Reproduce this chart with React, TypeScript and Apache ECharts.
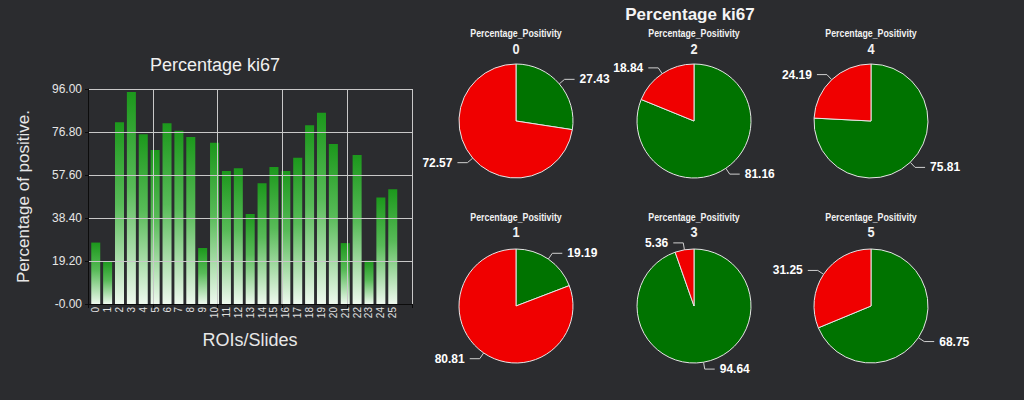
import React, { useEffect, useRef } from "react";
import * as echarts from "echarts";

const roiLabels = ["0", "1", "2", "3", "4", "5", "6", "7", "8", "9", "10", "11", "12", "13", "14", "15", "16", "17", "18", "19", "20", "21", "22", "23", "24", "25"];
const positivity = [27.43, 19.19, 81.16, 94.64, 75.81, 68.75, 80.7, 77.4, 74.6, 25.0, 72.0, 59.4, 60.6, 40.2, 53.9, 61.2, 59.4, 65.3, 79.8, 85.4, 71.4, 27.2, 66.5, 19.35, 47.5, 51.2];
const yTickLabels = ["-0.00", "19.20", "38.40", "57.60", "76.80", "96.00"];

const pieSlides = ["0", "1", "2", "3", "4", "5"];
const piePositive = [27.43, 19.19, 81.16, 94.64, 75.81, 68.75];
const pieNegative = [72.57, 80.81, 18.84, 5.36, 24.19, 31.25];

const BG = "#2b2c2f";
const SANS = "'Liberation Sans', Arial, sans-serif";

export default function App() {
  const ref = useRef<HTMLDivElement>(null);
  useEffect(() => {
    document.body.style.margin = "0";
    const chart = echarts.init(ref.current!, null, { renderer: "svg" });

    const pieCols = [516, 694, 871];
    const pieRows = [121, 306];
    const subY = [33, 217];
    const numY = [49, 232];

    const pieSeries: any[] = pieSlides.map((s, i) => {
      const col = Math.floor(i / 2);
      const row = i % 2;
      return {
        type: "pie",
        center: [pieCols[col], pieRows[row]],
        radius: 57,
        startAngle: 90,
        clockwise: true,
        avoidLabelOverlap: false,
        itemStyle: { borderColor: "#e6e6e6", borderWidth: 1 },
        label: {
          show: true,
          formatter: "{c}",
          color: "#ffffff",
          fontFamily: SANS,
          fontWeight: "bold",
          fontSize: 12,
        },
        labelLine: { show: true, length: 7, length2: 10, lineStyle: { color: "#d0d0d0", width: 1 } },
        emphasis: { disabled: true },
        data: [
          { name: "Positive " + s, value: piePositive[i], itemStyle: { color: "#007300" } },
          { name: "Negative " + s, value: pieNegative[i], itemStyle: { color: "#f00000" } },
        ],
      };
    });

    const pieTexts: any[] = [];
    pieSlides.forEach((s, i) => {
      const col = Math.floor(i / 2);
      const row = i % 2;
      pieTexts.push({
        type: "text",
        x: pieCols[col],
        y: subY[row],
        scaleX: 0.8,
        style: { text: "Percentage_Positivity", fill: "#f2f2f2", font: `bold 11px ${SANS}`, align: "center", verticalAlign: "middle" },
      });
      pieTexts.push({
        type: "text",
        x: pieCols[col],
        y: numY[row],
        scaleX: 0.85,
        style: { text: s, fill: "#f2f2f2", font: `bold 15px ${SANS}`, align: "center", verticalAlign: "middle" },
      });
    });

    chart.setOption({
      animation: false,
      backgroundColor: BG,
      textStyle: { fontFamily: SANS },
      grid: [
        { left: 88, top: 89, width: 324, height: 215 },
        { left: 89.8, top: 89, width: 308.9, height: 215 },
      ],
      xAxis: [
        {
          type: "value",
          gridIndex: 0,
          min: 0,
          max: 5,
          interval: 1,
          z: 4,
          name: "ROIs/Slides",
          nameLocation: "middle",
          nameGap: 27,
          nameTextStyle: { color: "#e8e8e8", fontSize: 18, fontFamily: SANS },
          axisLine: { show: true, lineStyle: { color: "#0c0c0c", width: 1 } },
          axisTick: { show: true, length: 4, lineStyle: { color: "#0c0c0c" } },
          axisLabel: { show: false },
          splitLine: { show: true, showMinLine: false, lineStyle: { color: "#c8c8c8", width: 1 } },
        },
        {
          type: "category",
          gridIndex: 1,
          data: roiLabels,
          boundaryGap: true,
          axisLine: { show: false },
          axisTick: { show: false },
          axisLabel: { rotate: 90, fontSize: 10, color: "#e0e0e0", margin: 3, interval: 0, fontFamily: SANS },
          splitLine: { show: false },
        },
      ],
      yAxis: [
        {
          type: "value",
          gridIndex: 0,
          min: 0,
          max: 96,
          interval: 19.2,
          z: 3,
          name: "Percentage of positive.",
          nameLocation: "middle",
          nameGap: 56,
          nameTextStyle: { color: "#e8e8e8", fontSize: 17, fontFamily: SANS },
          axisLine: { show: true, lineStyle: { color: "#0c0c0c", width: 1 } },
          axisTick: { show: true, length: 3, lineStyle: { color: "#0c0c0c" } },
          axisLabel: {
            color: "#e6e6e6",
            fontSize: 12,
            margin: 6,
            fontFamily: SANS,
            formatter: (v: number, idx: number) => yTickLabels[idx] ?? v.toFixed(2),
          },
          splitLine: { show: true, showMinLine: false, lineStyle: { color: "#c8c8c8", width: 1 } },
        },
        {
          type: "value",
          gridIndex: 1,
          min: 0,
          max: 96,
          show: false,
          splitLine: { show: false },
        },
      ],
      series: [
        {
          type: "bar",
          xAxisIndex: 1,
          yAxisIndex: 1,
          data: positivity,
          barWidth: 9,
          itemStyle: {
            color: new echarts.graphic.LinearGradient(0, 0, 0, 1, [
              { offset: 0, color: "#1c981c" },
              { offset: 0.45, color: "#58bb58" },
              { offset: 1, color: "#eef9ee" },
            ]),
          },
          emphasis: { disabled: true },
        },
        ...pieSeries,
      ],
      graphic: [
        {
          type: "text",
          x: 215,
          y: 65,
          style: { text: "Percentage ki67", fill: "#f0f0f0", font: `18px ${SANS}`, align: "center", verticalAlign: "middle" },
        },
        {
          type: "text",
          x: 690,
          y: 14,
          style: { text: "Percentage ki67", fill: "#f4f4f4", font: `bold 17px ${SANS}`, align: "center", verticalAlign: "middle" },
        },
        ...pieTexts,
      ],
    });

    return () => chart.dispose();
  }, []);

  return <div ref={ref} style={{ width: 1024, height: 400 }} />;
}
